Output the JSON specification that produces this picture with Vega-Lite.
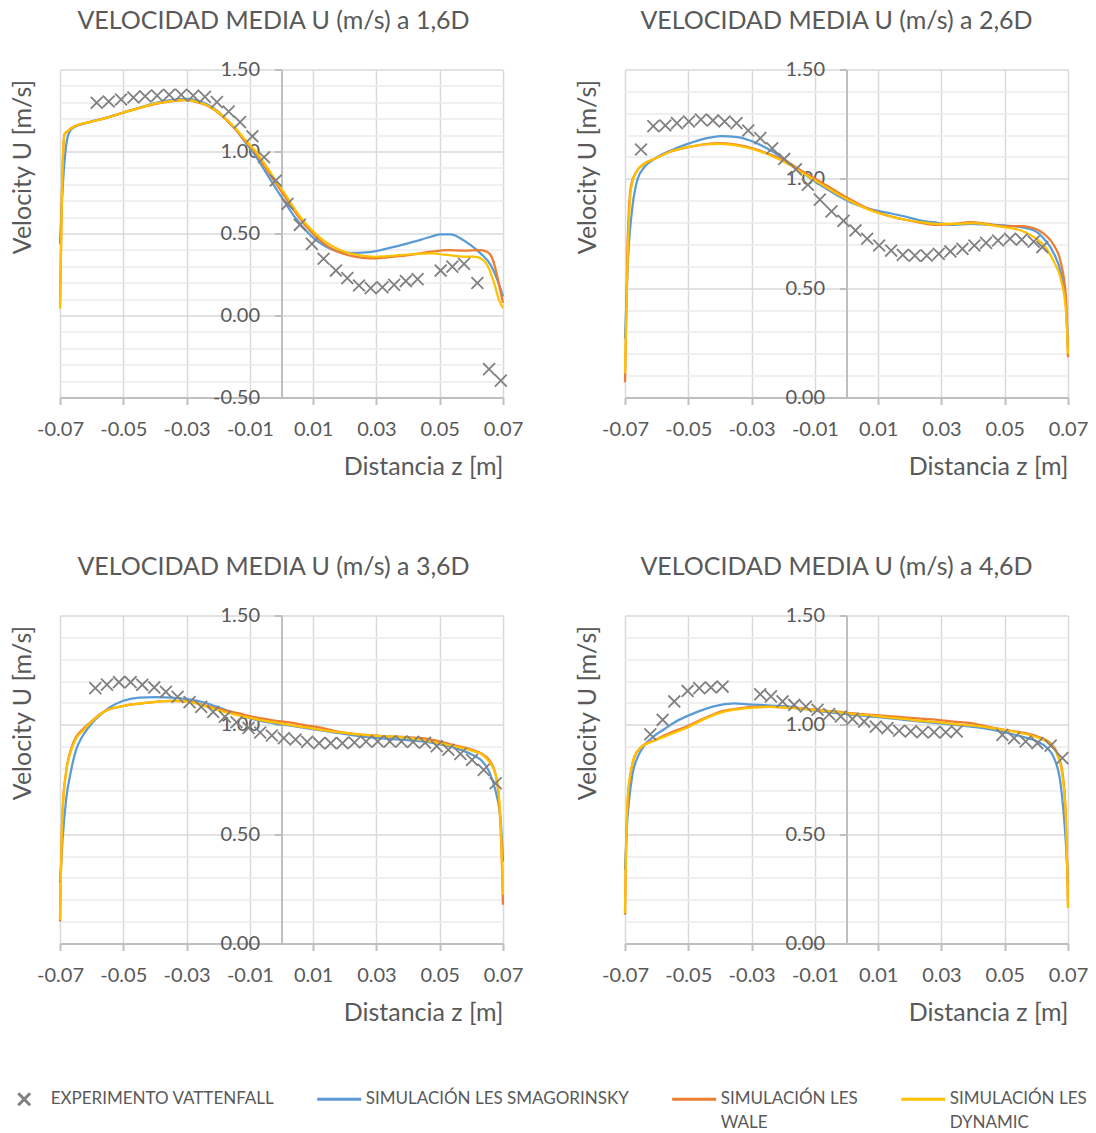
{
  "$schema": "https://vega.github.io/schema/vega-lite/v6.json",
  "padding": {"left": 0, "top": 8.5, "right": 0, "bottom": 0},
  "background": "white",
  "config": {
    "font": "Lato",
    "locale": {"number": {"decimal": ".", "thousands": ",", "grouping": [3], "currency": ["$", ""], "minus": "-"}},
    "view": {"stroke": null},
    "style": {"guide-label": {"lineHeight": 24}},
    "title": {"fontSize": 25, "fontWeight": "normal", "color": "#595959", "font": "Lato", "anchor": "middle", "offset": 25.5},
    "axis": {"labelFont": "Lato", "labelFontSize": 20, "labelColor": "#595959", "titleFont": "Lato", "titleFontSize": 25, "titleColor": "#595959", "titleFontWeight": "normal", "domainColor": "#bfbfbf", "tickColor": "#bfbfbf", "gridColor": "#d9d9d9"},
    "legend": {"title": null, "labelFont": "Lato", "labelFontSize": 17, "labelColor": "#595959", "labelLimit": 400, "labelOffset": 3, "symbolSize": 1936, "symbolStrokeWidth": 3, "columnPadding": 36, "padding": 0}
  },
  "datasets": {
    "d": [
      {"p":1,"s":"SMAG","z":-0.07,"u":0.437},{"p":1,"s":"SMAG","z":-0.0694,"u":0.691},{"p":1,"s":"SMAG","z":-0.0683,"u":0.996},{"p":1,"s":"SMAG","z":-0.0673,"u":1.108},{"p":1,"s":"SMAG","z":-0.066,"u":1.142},{"p":1,"s":"SMAG","z":-0.0607,"u":1.179},{"p":1,"s":"SMAG","z":-0.0555,"u":1.205},{"p":1,"s":"SMAG","z":-0.0502,"u":1.236},{"p":1,"s":"SMAG","z":-0.045,"u":1.266},{"p":1,"s":"SMAG","z":-0.0397,"u":1.297},{"p":1,"s":"SMAG","z":-0.0344,"u":1.315},{"p":1,"s":"SMAG","z":-0.0302,"u":1.321},{"p":1,"s":"SMAG","z":-0.0271,"u":1.313},{"p":1,"s":"SMAG","z":-0.0239,"u":1.291},{"p":1,"s":"SMAG","z":-0.0207,"u":1.254},{"p":1,"s":"SMAG","z":-0.0176,"u":1.199},{"p":1,"s":"SMAG","z":-0.0144,"u":1.132},{"p":1,"s":"SMAG","z":-0.0113,"u":1.053},{"p":1,"s":"SMAG","z":-0.0081,"u":0.97},{"p":1,"s":"SMAG","z":-0.005,"u":0.874},{"p":1,"s":"SMAG","z":-0.0018,"u":0.776},{"p":1,"s":"SMAG","z":0.0014,"u":0.681},{"p":1,"s":"SMAG","z":0.0045,"u":0.593},{"p":1,"s":"SMAG","z":0.0077,"u":0.518},{"p":1,"s":"SMAG","z":0.0108,"u":0.461},{"p":1,"s":"SMAG","z":0.014,"u":0.421},{"p":1,"s":"SMAG","z":0.0172,"u":0.394},{"p":1,"s":"SMAG","z":0.0203,"u":0.384},{"p":1,"s":"SMAG","z":0.0235,"u":0.382},{"p":1,"s":"SMAG","z":0.0277,"u":0.386},{"p":1,"s":"SMAG","z":0.0314,"u":0.399},{"p":1,"s":"SMAG","z":0.0366,"u":0.423},{"p":1,"s":"SMAG","z":0.0419,"u":0.45},{"p":1,"s":"SMAG","z":0.0472,"u":0.48},{"p":1,"s":"SMAG","z":0.0503,"u":0.494},{"p":1,"s":"SMAG","z":0.0535,"u":0.494},{"p":1,"s":"SMAG","z":0.0566,"u":0.47},{"p":1,"s":"SMAG","z":0.0598,"u":0.429},{"p":1,"s":"SMAG","z":0.0629,"u":0.379},{"p":1,"s":"SMAG","z":0.0661,"u":0.308},{"p":1,"s":"SMAG","z":0.0682,"u":0.218},{"p":1,"s":"SMAG","z":0.07,"u":0.117},
      {"p":1,"s":"WALE","z":-0.07,"u":0.061},{"p":1,"s":"WALE","z":-0.0694,"u":0.732},{"p":1,"s":"WALE","z":-0.0686,"u":1.106},{"p":1,"s":"WALE","z":-0.0676,"u":1.124},{"p":1,"s":"WALE","z":-0.066,"u":1.148},{"p":1,"s":"WALE","z":-0.0607,"u":1.179},{"p":1,"s":"WALE","z":-0.0555,"u":1.205},{"p":1,"s":"WALE","z":-0.0502,"u":1.236},{"p":1,"s":"WALE","z":-0.045,"u":1.264},{"p":1,"s":"WALE","z":-0.0397,"u":1.291},{"p":1,"s":"WALE","z":-0.0344,"u":1.307},{"p":1,"s":"WALE","z":-0.0302,"u":1.313},{"p":1,"s":"WALE","z":-0.0271,"u":1.303},{"p":1,"s":"WALE","z":-0.0239,"u":1.283},{"p":1,"s":"WALE","z":-0.0207,"u":1.246},{"p":1,"s":"WALE","z":-0.0176,"u":1.195},{"p":1,"s":"WALE","z":-0.0144,"u":1.132},{"p":1,"s":"WALE","z":-0.0113,"u":1.059},{"p":1,"s":"WALE","z":-0.0081,"u":0.988},{"p":1,"s":"WALE","z":-0.005,"u":0.898},{"p":1,"s":"WALE","z":-0.0018,"u":0.807},{"p":1,"s":"WALE","z":0.0014,"u":0.715},{"p":1,"s":"WALE","z":0.0045,"u":0.626},{"p":1,"s":"WALE","z":0.0077,"u":0.545},{"p":1,"s":"WALE","z":0.0108,"u":0.482},{"p":1,"s":"WALE","z":0.014,"u":0.431},{"p":1,"s":"WALE","z":0.0172,"u":0.394},{"p":1,"s":"WALE","z":0.0203,"u":0.372},{"p":1,"s":"WALE","z":0.0235,"u":0.358},{"p":1,"s":"WALE","z":0.0266,"u":0.35},{"p":1,"s":"WALE","z":0.0298,"u":0.348},{"p":1,"s":"WALE","z":0.0335,"u":0.355},{"p":1,"s":"WALE","z":0.0419,"u":0.373},{"p":1,"s":"WALE","z":0.0472,"u":0.389},{"p":1,"s":"WALE","z":0.0524,"u":0.399},{"p":1,"s":"WALE","z":0.0577,"u":0.395},{"p":1,"s":"WALE","z":0.0629,"u":0.399},{"p":1,"s":"WALE","z":0.065,"u":0.389},{"p":1,"s":"WALE","z":0.0666,"u":0.349},{"p":1,"s":"WALE","z":0.0682,"u":0.238},{"p":1,"s":"WALE","z":0.0693,"u":0.137},{"p":1,"s":"WALE","z":0.07,"u":0.077},
      {"p":1,"s":"DYN","z":-0.07,"u":0.041},{"p":1,"s":"DYN","z":-0.0694,"u":0.732},{"p":1,"s":"DYN","z":-0.0686,"u":1.102},{"p":1,"s":"DYN","z":-0.0676,"u":1.122},{"p":1,"s":"DYN","z":-0.066,"u":1.148},{"p":1,"s":"DYN","z":-0.0607,"u":1.179},{"p":1,"s":"DYN","z":-0.0555,"u":1.203},{"p":1,"s":"DYN","z":-0.0502,"u":1.236},{"p":1,"s":"DYN","z":-0.045,"u":1.264},{"p":1,"s":"DYN","z":-0.0397,"u":1.293},{"p":1,"s":"DYN","z":-0.0344,"u":1.309},{"p":1,"s":"DYN","z":-0.0302,"u":1.315},{"p":1,"s":"DYN","z":-0.0271,"u":1.305},{"p":1,"s":"DYN","z":-0.0239,"u":1.285},{"p":1,"s":"DYN","z":-0.0207,"u":1.25},{"p":1,"s":"DYN","z":-0.0176,"u":1.199},{"p":1,"s":"DYN","z":-0.0144,"u":1.138},{"p":1,"s":"DYN","z":-0.0113,"u":1.067},{"p":1,"s":"DYN","z":-0.0081,"u":1.0},{"p":1,"s":"DYN","z":-0.005,"u":0.915},{"p":1,"s":"DYN","z":-0.0018,"u":0.823},{"p":1,"s":"DYN","z":0.0014,"u":0.732},{"p":1,"s":"DYN","z":0.0045,"u":0.64},{"p":1,"s":"DYN","z":0.0077,"u":0.559},{"p":1,"s":"DYN","z":0.0108,"u":0.498},{"p":1,"s":"DYN","z":0.014,"u":0.447},{"p":1,"s":"DYN","z":0.0172,"u":0.411},{"p":1,"s":"DYN","z":0.0203,"u":0.386},{"p":1,"s":"DYN","z":0.0235,"u":0.372},{"p":1,"s":"DYN","z":0.0266,"u":0.362},{"p":1,"s":"DYN","z":0.0298,"u":0.358},{"p":1,"s":"DYN","z":0.0335,"u":0.362},{"p":1,"s":"DYN","z":0.0419,"u":0.375},{"p":1,"s":"DYN","z":0.0472,"u":0.379},{"p":1,"s":"DYN","z":0.0524,"u":0.369},{"p":1,"s":"DYN","z":0.0577,"u":0.359},{"p":1,"s":"DYN","z":0.0608,"u":0.359},{"p":1,"s":"DYN","z":0.0629,"u":0.349},{"p":1,"s":"DYN","z":0.065,"u":0.308},{"p":1,"s":"DYN","z":0.0672,"u":0.198},{"p":1,"s":"DYN","z":0.0687,"u":0.097},{"p":1,"s":"DYN","z":0.07,"u":0.046},
      {"p":1,"s":"EXP","z":-0.0584,"u":1.297},{"p":1,"s":"EXP","z":-0.0546,"u":1.305},{"p":1,"s":"EXP","z":-0.0507,"u":1.317},{"p":1,"s":"EXP","z":-0.0468,"u":1.329},{"p":1,"s":"EXP","z":-0.0431,"u":1.337},{"p":1,"s":"EXP","z":-0.0393,"u":1.341},{"p":1,"s":"EXP","z":-0.0355,"u":1.346},{"p":1,"s":"EXP","z":-0.0317,"u":1.346},{"p":1,"s":"EXP","z":-0.0279,"u":1.341},{"p":1,"s":"EXP","z":-0.0242,"u":1.333},{"p":1,"s":"EXP","z":-0.0204,"u":1.301},{"p":1,"s":"EXP","z":-0.0167,"u":1.244},{"p":1,"s":"EXP","z":-0.0131,"u":1.179},{"p":1,"s":"EXP","z":-0.0092,"u":1.093},{"p":1,"s":"EXP","z":-0.0055,"u":0.965},{"p":1,"s":"EXP","z":-0.0018,"u":0.823},{"p":1,"s":"EXP","z":0.0019,"u":0.681},{"p":1,"s":"EXP","z":0.0058,"u":0.553},{"p":1,"s":"EXP","z":0.0096,"u":0.437},{"p":1,"s":"EXP","z":0.0133,"u":0.346},{"p":1,"s":"EXP","z":0.0172,"u":0.274},{"p":1,"s":"EXP","z":0.0208,"u":0.228},{"p":1,"s":"EXP","z":0.0245,"u":0.183},{"p":1,"s":"EXP","z":0.0282,"u":0.167},{"p":1,"s":"EXP","z":0.0319,"u":0.172},{"p":1,"s":"EXP","z":0.0356,"u":0.187},{"p":1,"s":"EXP","z":0.0393,"u":0.21},{"p":1,"s":"EXP","z":0.043,"u":0.222},{"p":1,"s":"EXP","z":0.0503,"u":0.274},{"p":1,"s":"EXP","z":0.054,"u":0.298},{"p":1,"s":"EXP","z":0.0577,"u":0.315},{"p":1,"s":"EXP","z":0.0619,"u":0.198},{"p":1,"s":"EXP","z":0.0656,"u":-0.327},{"p":1,"s":"EXP","z":0.0693,"u":-0.397},

      {"p":2,"s":"SMAG","z":-0.07,"u":0.268},{"p":2,"s":"SMAG","z":-0.0692,"u":0.588},{"p":2,"s":"SMAG","z":-0.0676,"u":0.878},{"p":2,"s":"SMAG","z":-0.066,"u":1.0},{"p":2,"s":"SMAG","z":-0.0639,"u":1.053},{"p":2,"s":"SMAG","z":-0.0607,"u":1.091},{"p":2,"s":"SMAG","z":-0.0555,"u":1.13},{"p":2,"s":"SMAG","z":-0.0502,"u":1.16},{"p":2,"s":"SMAG","z":-0.045,"u":1.183},{"p":2,"s":"SMAG","z":-0.0397,"u":1.195},{"p":2,"s":"SMAG","z":-0.0344,"u":1.191},{"p":2,"s":"SMAG","z":-0.0292,"u":1.168},{"p":2,"s":"SMAG","z":-0.0239,"u":1.13},{"p":2,"s":"SMAG","z":-0.0186,"u":1.079},{"p":2,"s":"SMAG","z":-0.0134,"u":1.023},{"p":2,"s":"SMAG","z":-0.0081,"u":0.97},{"p":2,"s":"SMAG","z":-0.0028,"u":0.924},{"p":2,"s":"SMAG","z":0.0024,"u":0.886},{"p":2,"s":"SMAG","z":0.0077,"u":0.86},{"p":2,"s":"SMAG","z":0.013,"u":0.845},{"p":2,"s":"SMAG","z":0.0182,"u":0.829},{"p":2,"s":"SMAG","z":0.0235,"u":0.809},{"p":2,"s":"SMAG","z":0.0287,"u":0.799},{"p":2,"s":"SMAG","z":0.034,"u":0.79},{"p":2,"s":"SMAG","z":0.0393,"u":0.794},{"p":2,"s":"SMAG","z":0.0445,"u":0.79},{"p":2,"s":"SMAG","z":0.0498,"u":0.787},{"p":2,"s":"SMAG","z":0.0551,"u":0.779},{"p":2,"s":"SMAG","z":0.0593,"u":0.764},{"p":2,"s":"SMAG","z":0.0624,"u":0.726},{"p":2,"s":"SMAG","z":0.0656,"u":0.657},{"p":2,"s":"SMAG","z":0.0677,"u":0.573},{"p":2,"s":"SMAG","z":0.0693,"u":0.436},{"p":2,"s":"SMAG","z":0.07,"u":0.223},
      {"p":2,"s":"WALE","z":-0.07,"u":0.07},{"p":2,"s":"WALE","z":-0.0692,"u":0.695},{"p":2,"s":"WALE","z":-0.0681,"u":0.97},{"p":2,"s":"WALE","z":-0.0665,"u":1.03},{"p":2,"s":"WALE","z":-0.0639,"u":1.069},{"p":2,"s":"WALE","z":-0.0607,"u":1.091},{"p":2,"s":"WALE","z":-0.0555,"u":1.125},{"p":2,"s":"WALE","z":-0.0502,"u":1.145},{"p":2,"s":"WALE","z":-0.045,"u":1.158},{"p":2,"s":"WALE","z":-0.0397,"u":1.163},{"p":2,"s":"WALE","z":-0.0344,"u":1.155},{"p":2,"s":"WALE","z":-0.0292,"u":1.137},{"p":2,"s":"WALE","z":-0.0239,"u":1.111},{"p":2,"s":"WALE","z":-0.0186,"u":1.076},{"p":2,"s":"WALE","z":-0.0134,"u":1.03},{"p":2,"s":"WALE","z":-0.0081,"u":0.985},{"p":2,"s":"WALE","z":-0.0028,"u":0.939},{"p":2,"s":"WALE","z":0.0024,"u":0.896},{"p":2,"s":"WALE","z":0.0077,"u":0.858},{"p":2,"s":"WALE","z":0.013,"u":0.832},{"p":2,"s":"WALE","z":0.0182,"u":0.814},{"p":2,"s":"WALE","z":0.0235,"u":0.799},{"p":2,"s":"WALE","z":0.0287,"u":0.79},{"p":2,"s":"WALE","z":0.034,"u":0.794},{"p":2,"s":"WALE","z":0.0393,"u":0.802},{"p":2,"s":"WALE","z":0.0445,"u":0.794},{"p":2,"s":"WALE","z":0.0498,"u":0.784},{"p":2,"s":"WALE","z":0.0551,"u":0.784},{"p":2,"s":"WALE","z":0.0593,"u":0.774},{"p":2,"s":"WALE","z":0.0624,"u":0.748},{"p":2,"s":"WALE","z":0.0656,"u":0.695},{"p":2,"s":"WALE","z":0.0677,"u":0.619},{"p":2,"s":"WALE","z":0.0693,"u":0.466},{"p":2,"s":"WALE","z":0.07,"u":0.184},
      {"p":2,"s":"DYN","z":-0.07,"u":0.11},{"p":2,"s":"DYN","z":-0.0692,"u":0.619},{"p":2,"s":"DYN","z":-0.0681,"u":0.954},{"p":2,"s":"DYN","z":-0.0665,"u":1.03},{"p":2,"s":"DYN","z":-0.0639,"u":1.069},{"p":2,"s":"DYN","z":-0.0607,"u":1.091},{"p":2,"s":"DYN","z":-0.0555,"u":1.125},{"p":2,"s":"DYN","z":-0.0502,"u":1.145},{"p":2,"s":"DYN","z":-0.045,"u":1.157},{"p":2,"s":"DYN","z":-0.0397,"u":1.16},{"p":2,"s":"DYN","z":-0.0344,"u":1.152},{"p":2,"s":"DYN","z":-0.0292,"u":1.134},{"p":2,"s":"DYN","z":-0.0239,"u":1.107},{"p":2,"s":"DYN","z":-0.0186,"u":1.069},{"p":2,"s":"DYN","z":-0.0134,"u":1.023},{"p":2,"s":"DYN","z":-0.0081,"u":0.977},{"p":2,"s":"DYN","z":-0.0028,"u":0.931},{"p":2,"s":"DYN","z":0.0024,"u":0.89},{"p":2,"s":"DYN","z":0.0077,"u":0.855},{"p":2,"s":"DYN","z":0.013,"u":0.832},{"p":2,"s":"DYN","z":0.0182,"u":0.814},{"p":2,"s":"DYN","z":0.0235,"u":0.802},{"p":2,"s":"DYN","z":0.0287,"u":0.794},{"p":2,"s":"DYN","z":0.034,"u":0.794},{"p":2,"s":"DYN","z":0.0393,"u":0.797},{"p":2,"s":"DYN","z":0.0445,"u":0.791},{"p":2,"s":"DYN","z":0.0498,"u":0.779},{"p":2,"s":"DYN","z":0.0551,"u":0.764},{"p":2,"s":"DYN","z":0.0593,"u":0.733},{"p":2,"s":"DYN","z":0.0624,"u":0.695},{"p":2,"s":"DYN","z":0.0656,"u":0.619},{"p":2,"s":"DYN","z":0.0677,"u":0.543},{"p":2,"s":"DYN","z":0.0693,"u":0.405},{"p":2,"s":"DYN","z":0.07,"u":0.2},
      {"p":2,"s":"EXP","z":-0.06495,"u":1.134},{"p":2,"s":"EXP","z":-0.06105,"u":1.241},{"p":2,"s":"EXP","z":-0.05726,"u":1.244},{"p":2,"s":"EXP","z":-0.05358,"u":1.255},{"p":2,"s":"EXP","z":-0.04979,"u":1.262},{"p":2,"s":"EXP","z":-0.046,"u":1.271},{"p":2,"s":"EXP","z":-0.04221,"u":1.267},{"p":2,"s":"EXP","z":-0.03853,"u":1.262},{"p":2,"s":"EXP","z":-0.03474,"u":1.255},{"p":2,"s":"EXP","z":-0.03105,"u":1.221},{"p":2,"s":"EXP","z":-0.02726,"u":1.186},{"p":2,"s":"EXP","z":-0.02347,"u":1.14},{"p":2,"s":"EXP","z":-0.01968,"u":1.091},{"p":2,"s":"EXP","z":-0.016,"u":1.043},{"p":2,"s":"EXP","z":-0.01221,"u":0.973},{"p":2,"s":"EXP","z":-0.00842,"u":0.905},{"p":2,"s":"EXP","z":-0.00474,"u":0.851},{"p":2,"s":"EXP","z":-0.00095,"u":0.808},{"p":2,"s":"EXP","z":0.00284,"u":0.764},{"p":2,"s":"EXP","z":0.00653,"u":0.726},{"p":2,"s":"EXP","z":0.01032,"u":0.695},{"p":2,"s":"EXP","z":0.01411,"u":0.672},{"p":2,"s":"EXP","z":0.01779,"u":0.652},{"p":2,"s":"EXP","z":0.02158,"u":0.649},{"p":2,"s":"EXP","z":0.02537,"u":0.649},{"p":2,"s":"EXP","z":0.02916,"u":0.657},{"p":2,"s":"EXP","z":0.03284,"u":0.668},{"p":2,"s":"EXP","z":0.03663,"u":0.68},{"p":2,"s":"EXP","z":0.04042,"u":0.695},{"p":2,"s":"EXP","z":0.04411,"u":0.707},{"p":2,"s":"EXP","z":0.04789,"u":0.718},{"p":2,"s":"EXP","z":0.05168,"u":0.726},{"p":2,"s":"EXP","z":0.05537,"u":0.722},{"p":2,"s":"EXP","z":0.05916,"u":0.713},{"p":2,"s":"EXP","z":0.06189,"u":0.688},

      {"p":3,"s":"SMAG","z":-0.07,"u":0.276},{"p":3,"s":"SMAG","z":-0.0692,"u":0.473},{"p":3,"s":"SMAG","z":-0.0681,"u":0.655},{"p":3,"s":"SMAG","z":-0.0665,"u":0.791},{"p":3,"s":"SMAG","z":-0.065,"u":0.882},{"p":3,"s":"SMAG","z":-0.0628,"u":0.95},{"p":3,"s":"SMAG","z":-0.0602,"u":1.003},{"p":3,"s":"SMAG","z":-0.0576,"u":1.041},{"p":3,"s":"SMAG","z":-0.0544,"u":1.079},{"p":3,"s":"SMAG","z":-0.0502,"u":1.109},{"p":3,"s":"SMAG","z":-0.045,"u":1.124},{"p":3,"s":"SMAG","z":-0.0397,"u":1.127},{"p":3,"s":"SMAG","z":-0.0344,"u":1.124},{"p":3,"s":"SMAG","z":-0.0292,"u":1.117},{"p":3,"s":"SMAG","z":-0.0239,"u":1.1},{"p":3,"s":"SMAG","z":-0.0186,"u":1.073},{"p":3,"s":"SMAG","z":-0.0134,"u":1.046},{"p":3,"s":"SMAG","z":-0.0081,"u":1.023},{"p":3,"s":"SMAG","z":-0.0028,"u":1.008},{"p":3,"s":"SMAG","z":0.0024,"u":0.997},{"p":3,"s":"SMAG","z":0.0077,"u":0.985},{"p":3,"s":"SMAG","z":0.013,"u":0.973},{"p":3,"s":"SMAG","z":0.0182,"u":0.962},{"p":3,"s":"SMAG","z":0.0235,"u":0.951},{"p":3,"s":"SMAG","z":0.0287,"u":0.942},{"p":3,"s":"SMAG","z":0.034,"u":0.936},{"p":3,"s":"SMAG","z":0.0393,"u":0.931},{"p":3,"s":"SMAG","z":0.0445,"u":0.924},{"p":3,"s":"SMAG","z":0.0498,"u":0.912},{"p":3,"s":"SMAG","z":0.0551,"u":0.893},{"p":3,"s":"SMAG","z":0.0603,"u":0.863},{"p":3,"s":"SMAG","z":0.0635,"u":0.832},{"p":3,"s":"SMAG","z":0.0656,"u":0.787},{"p":3,"s":"SMAG","z":0.0677,"u":0.695},{"p":3,"s":"SMAG","z":0.0693,"u":0.558},{"p":3,"s":"SMAG","z":0.07,"u":0.375},
      {"p":3,"s":"WALE","z":-0.07,"u":0.1},{"p":3,"s":"WALE","z":-0.0697,"u":0.336},{"p":3,"s":"WALE","z":-0.0692,"u":0.609},{"p":3,"s":"WALE","z":-0.0681,"u":0.783},{"p":3,"s":"WALE","z":-0.0665,"u":0.889},{"p":3,"s":"WALE","z":-0.065,"u":0.943},{"p":3,"s":"WALE","z":-0.0628,"u":0.98},{"p":3,"s":"WALE","z":-0.0602,"u":1.014},{"p":3,"s":"WALE","z":-0.0576,"u":1.047},{"p":3,"s":"WALE","z":-0.0544,"u":1.071},{"p":3,"s":"WALE","z":-0.0502,"u":1.086},{"p":3,"s":"WALE","z":-0.045,"u":1.097},{"p":3,"s":"WALE","z":-0.0397,"u":1.105},{"p":3,"s":"WALE","z":-0.0344,"u":1.109},{"p":3,"s":"WALE","z":-0.0292,"u":1.107},{"p":3,"s":"WALE","z":-0.0239,"u":1.088},{"p":3,"s":"WALE","z":-0.0186,"u":1.069},{"p":3,"s":"WALE","z":-0.0134,"u":1.052},{"p":3,"s":"WALE","z":-0.0081,"u":1.034},{"p":3,"s":"WALE","z":-0.0028,"u":1.021},{"p":3,"s":"WALE","z":0.0024,"u":1.011},{"p":3,"s":"WALE","z":0.0077,"u":0.998},{"p":3,"s":"WALE","z":0.013,"u":0.985},{"p":3,"s":"WALE","z":0.0182,"u":0.968},{"p":3,"s":"WALE","z":0.0235,"u":0.958},{"p":3,"s":"WALE","z":0.0287,"u":0.952},{"p":3,"s":"WALE","z":0.034,"u":0.947},{"p":3,"s":"WALE","z":0.0393,"u":0.944},{"p":3,"s":"WALE","z":0.0445,"u":0.939},{"p":3,"s":"WALE","z":0.0498,"u":0.925},{"p":3,"s":"WALE","z":0.0551,"u":0.905},{"p":3,"s":"WALE","z":0.0603,"u":0.886},{"p":3,"s":"WALE","z":0.0635,"u":0.866},{"p":3,"s":"WALE","z":0.0656,"u":0.84},{"p":3,"s":"WALE","z":0.0677,"u":0.771},{"p":3,"s":"WALE","z":0.0687,"u":0.66},{"p":3,"s":"WALE","z":0.0695,"u":0.44},{"p":3,"s":"WALE","z":0.07,"u":0.177},
      {"p":3,"s":"DYN","z":-0.07,"u":0.109},{"p":3,"s":"DYN","z":-0.0697,"u":0.321},{"p":3,"s":"DYN","z":-0.0692,"u":0.594},{"p":3,"s":"DYN","z":-0.0681,"u":0.776},{"p":3,"s":"DYN","z":-0.0665,"u":0.882},{"p":3,"s":"DYN","z":-0.065,"u":0.935},{"p":3,"s":"DYN","z":-0.0628,"u":0.973},{"p":3,"s":"DYN","z":-0.0602,"u":1.011},{"p":3,"s":"DYN","z":-0.0576,"u":1.045},{"p":3,"s":"DYN","z":-0.0544,"u":1.071},{"p":3,"s":"DYN","z":-0.0502,"u":1.086},{"p":3,"s":"DYN","z":-0.045,"u":1.097},{"p":3,"s":"DYN","z":-0.0397,"u":1.105},{"p":3,"s":"DYN","z":-0.0344,"u":1.109},{"p":3,"s":"DYN","z":-0.0292,"u":1.105},{"p":3,"s":"DYN","z":-0.0239,"u":1.084},{"p":3,"s":"DYN","z":-0.0186,"u":1.061},{"p":3,"s":"DYN","z":-0.0134,"u":1.043},{"p":3,"s":"DYN","z":-0.0081,"u":1.026},{"p":3,"s":"DYN","z":-0.0028,"u":1.012},{"p":3,"s":"DYN","z":0.0024,"u":1.0},{"p":3,"s":"DYN","z":0.0077,"u":0.988},{"p":3,"s":"DYN","z":0.013,"u":0.976},{"p":3,"s":"DYN","z":0.0182,"u":0.966},{"p":3,"s":"DYN","z":0.0235,"u":0.957},{"p":3,"s":"DYN","z":0.0287,"u":0.951},{"p":3,"s":"DYN","z":0.034,"u":0.947},{"p":3,"s":"DYN","z":0.0393,"u":0.942},{"p":3,"s":"DYN","z":0.0445,"u":0.931},{"p":3,"s":"DYN","z":0.0498,"u":0.916},{"p":3,"s":"DYN","z":0.0551,"u":0.901},{"p":3,"s":"DYN","z":0.0603,"u":0.881},{"p":3,"s":"DYN","z":0.0635,"u":0.863},{"p":3,"s":"DYN","z":0.0656,"u":0.832},{"p":3,"s":"DYN","z":0.0677,"u":0.771},{"p":3,"s":"DYN","z":0.0687,"u":0.68},{"p":3,"s":"DYN","z":0.0695,"u":0.466},{"p":3,"s":"DYN","z":0.07,"u":0.223},
      {"p":3,"s":"EXP","z":-0.05884,"u":1.168},{"p":3,"s":"EXP","z":-0.05516,"u":1.184},{"p":3,"s":"EXP","z":-0.05137,"u":1.195},{"p":3,"s":"EXP","z":-0.04768,"u":1.195},{"p":3,"s":"EXP","z":-0.044,"u":1.183},{"p":3,"s":"EXP","z":-0.04021,"u":1.171},{"p":3,"s":"EXP","z":-0.03653,"u":1.151},{"p":3,"s":"EXP","z":-0.03284,"u":1.128},{"p":3,"s":"EXP","z":-0.02905,"u":1.104},{"p":3,"s":"EXP","z":-0.02537,"u":1.082},{"p":3,"s":"EXP","z":-0.02158,"u":1.059},{"p":3,"s":"EXP","z":-0.01789,"u":1.037},{"p":3,"s":"EXP","z":-0.01421,"u":1.012},{"p":3,"s":"EXP","z":-0.01042,"u":0.986},{"p":3,"s":"EXP","z":-0.00674,"u":0.965},{"p":3,"s":"EXP","z":-0.00305,"u":0.951},{"p":3,"s":"EXP","z":0.00074,"u":0.939},{"p":3,"s":"EXP","z":0.00442,"u":0.933},{"p":3,"s":"EXP","z":0.00811,"u":0.922},{"p":3,"s":"EXP","z":0.01189,"u":0.916},{"p":3,"s":"EXP","z":0.01558,"u":0.916},{"p":3,"s":"EXP","z":0.01926,"u":0.916},{"p":3,"s":"EXP","z":0.02305,"u":0.919},{"p":3,"s":"EXP","z":0.02674,"u":0.924},{"p":3,"s":"EXP","z":0.03042,"u":0.924},{"p":3,"s":"EXP","z":0.03421,"u":0.924},{"p":3,"s":"EXP","z":0.03789,"u":0.924},{"p":3,"s":"EXP","z":0.04158,"u":0.922},{"p":3,"s":"EXP","z":0.04537,"u":0.918},{"p":3,"s":"EXP","z":0.04905,"u":0.902},{"p":3,"s":"EXP","z":0.05274,"u":0.886},{"p":3,"s":"EXP","z":0.05653,"u":0.867},{"p":3,"s":"EXP","z":0.06021,"u":0.84},{"p":3,"s":"EXP","z":0.06389,"u":0.794},{"p":3,"s":"EXP","z":0.06768,"u":0.733},

      {"p":4,"s":"SMAG","z":-0.07,"u":0.336},{"p":4,"s":"SMAG","z":-0.0694,"u":0.533},{"p":4,"s":"SMAG","z":-0.0686,"u":0.67},{"p":4,"s":"SMAG","z":-0.0676,"u":0.776},{"p":4,"s":"SMAG","z":-0.066,"u":0.852},{"p":4,"s":"SMAG","z":-0.0639,"u":0.905},{"p":4,"s":"SMAG","z":-0.0607,"u":0.95},{"p":4,"s":"SMAG","z":-0.0576,"u":0.98},{"p":4,"s":"SMAG","z":-0.0544,"u":1.011},{"p":4,"s":"SMAG","z":-0.0502,"u":1.041},{"p":4,"s":"SMAG","z":-0.045,"u":1.071},{"p":4,"s":"SMAG","z":-0.0397,"u":1.091},{"p":4,"s":"SMAG","z":-0.0355,"u":1.098},{"p":4,"s":"SMAG","z":-0.0313,"u":1.094},{"p":4,"s":"SMAG","z":-0.0239,"u":1.088},{"p":4,"s":"SMAG","z":-0.0186,"u":1.084},{"p":4,"s":"SMAG","z":-0.0134,"u":1.073},{"p":4,"s":"SMAG","z":-0.0081,"u":1.061},{"p":4,"s":"SMAG","z":-0.0028,"u":1.053},{"p":4,"s":"SMAG","z":0.0024,"u":1.046},{"p":4,"s":"SMAG","z":0.0077,"u":1.038},{"p":4,"s":"SMAG","z":0.013,"u":1.031},{"p":4,"s":"SMAG","z":0.0182,"u":1.023},{"p":4,"s":"SMAG","z":0.0235,"u":1.015},{"p":4,"s":"SMAG","z":0.0287,"u":1.008},{"p":4,"s":"SMAG","z":0.034,"u":1.0},{"p":4,"s":"SMAG","z":0.0393,"u":0.992},{"p":4,"s":"SMAG","z":0.0445,"u":0.982},{"p":4,"s":"SMAG","z":0.0498,"u":0.966},{"p":4,"s":"SMAG","z":0.0551,"u":0.947},{"p":4,"s":"SMAG","z":0.0603,"u":0.924},{"p":4,"s":"SMAG","z":0.0635,"u":0.893},{"p":4,"s":"SMAG","z":0.0656,"u":0.848},{"p":4,"s":"SMAG","z":0.0677,"u":0.726},{"p":4,"s":"SMAG","z":0.0693,"u":0.466},{"p":4,"s":"SMAG","z":0.07,"u":0.284},
      {"p":4,"s":"WALE","z":-0.07,"u":0.132},{"p":4,"s":"WALE","z":-0.0697,"u":0.41},{"p":4,"s":"WALE","z":-0.0692,"u":0.64},{"p":4,"s":"WALE","z":-0.0683,"u":0.77},{"p":4,"s":"WALE","z":-0.0671,"u":0.849},{"p":4,"s":"WALE","z":-0.065,"u":0.897},{"p":4,"s":"WALE","z":-0.0607,"u":0.93},{"p":4,"s":"WALE","z":-0.0555,"u":0.965},{"p":4,"s":"WALE","z":-0.0502,"u":0.995},{"p":4,"s":"WALE","z":-0.045,"u":1.03},{"p":4,"s":"WALE","z":-0.0397,"u":1.061},{"p":4,"s":"WALE","z":-0.0344,"u":1.074},{"p":4,"s":"WALE","z":-0.0292,"u":1.082},{"p":4,"s":"WALE","z":-0.0239,"u":1.082},{"p":4,"s":"WALE","z":-0.0186,"u":1.079},{"p":4,"s":"WALE","z":-0.0134,"u":1.074},{"p":4,"s":"WALE","z":-0.0081,"u":1.067},{"p":4,"s":"WALE","z":-0.0028,"u":1.06},{"p":4,"s":"WALE","z":0.0024,"u":1.052},{"p":4,"s":"WALE","z":0.0077,"u":1.046},{"p":4,"s":"WALE","z":0.013,"u":1.04},{"p":4,"s":"WALE","z":0.0182,"u":1.034},{"p":4,"s":"WALE","z":0.0235,"u":1.028},{"p":4,"s":"WALE","z":0.0287,"u":1.023},{"p":4,"s":"WALE","z":0.034,"u":1.015},{"p":4,"s":"WALE","z":0.0393,"u":1.008},{"p":4,"s":"WALE","z":0.0445,"u":0.992},{"p":4,"s":"WALE","z":0.0498,"u":0.977},{"p":4,"s":"WALE","z":0.0551,"u":0.966},{"p":4,"s":"WALE","z":0.0603,"u":0.947},{"p":4,"s":"WALE","z":0.0645,"u":0.916},{"p":4,"s":"WALE","z":0.0666,"u":0.87},{"p":4,"s":"WALE","z":0.0682,"u":0.787},{"p":4,"s":"WALE","z":0.0693,"u":0.588},{"p":4,"s":"WALE","z":0.07,"u":0.169},
      {"p":4,"s":"DYN","z":-0.07,"u":0.139},{"p":4,"s":"DYN","z":-0.0697,"u":0.397},{"p":4,"s":"DYN","z":-0.0692,"u":0.655},{"p":4,"s":"DYN","z":-0.0683,"u":0.776},{"p":4,"s":"DYN","z":-0.0671,"u":0.852},{"p":4,"s":"DYN","z":-0.065,"u":0.897},{"p":4,"s":"DYN","z":-0.0607,"u":0.927},{"p":4,"s":"DYN","z":-0.0555,"u":0.958},{"p":4,"s":"DYN","z":-0.0502,"u":0.988},{"p":4,"s":"DYN","z":-0.045,"u":1.026},{"p":4,"s":"DYN","z":-0.0397,"u":1.056},{"p":4,"s":"DYN","z":-0.0344,"u":1.071},{"p":4,"s":"DYN","z":-0.0292,"u":1.079},{"p":4,"s":"DYN","z":-0.0239,"u":1.082},{"p":4,"s":"DYN","z":-0.0186,"u":1.079},{"p":4,"s":"DYN","z":-0.0134,"u":1.073},{"p":4,"s":"DYN","z":-0.0081,"u":1.064},{"p":4,"s":"DYN","z":-0.0028,"u":1.058},{"p":4,"s":"DYN","z":0.0024,"u":1.049},{"p":4,"s":"DYN","z":0.0077,"u":1.043},{"p":4,"s":"DYN","z":0.013,"u":1.034},{"p":4,"s":"DYN","z":0.0182,"u":1.027},{"p":4,"s":"DYN","z":0.0235,"u":1.018},{"p":4,"s":"DYN","z":0.0287,"u":1.012},{"p":4,"s":"DYN","z":0.034,"u":1.003},{"p":4,"s":"DYN","z":0.0393,"u":0.997},{"p":4,"s":"DYN","z":0.0445,"u":0.988},{"p":4,"s":"DYN","z":0.0498,"u":0.977},{"p":4,"s":"DYN","z":0.0551,"u":0.962},{"p":4,"s":"DYN","z":0.0603,"u":0.942},{"p":4,"s":"DYN","z":0.0645,"u":0.909},{"p":4,"s":"DYN","z":0.0666,"u":0.863},{"p":4,"s":"DYN","z":0.0682,"u":0.771},{"p":4,"s":"DYN","z":0.0693,"u":0.588},{"p":4,"s":"DYN","z":0.07,"u":0.162},
      {"p":4,"s":"EXP","z":-0.062,"u":0.957},{"p":4,"s":"EXP","z":-0.0581,"u":1.023},{"p":4,"s":"EXP","z":-0.05442,"u":1.107},{"p":4,"s":"EXP","z":-0.05021,"u":1.155},{"p":4,"s":"EXP","z":-0.04653,"u":1.168},{"p":4,"s":"EXP","z":-0.04284,"u":1.171},{"p":4,"s":"EXP","z":-0.03916,"u":1.175},{"p":4,"s":"EXP","z":-0.02726,"u":1.14},{"p":4,"s":"EXP","z":-0.02389,"u":1.13},{"p":4,"s":"EXP","z":-0.02021,"u":1.107},{"p":4,"s":"EXP","z":-0.01653,"u":1.091},{"p":4,"s":"EXP","z":-0.01284,"u":1.084},{"p":4,"s":"EXP","z":-0.00916,"u":1.069},{"p":4,"s":"EXP","z":-0.00547,"u":1.049},{"p":4,"s":"EXP","z":-0.00179,"u":1.038},{"p":4,"s":"EXP","z":0.00189,"u":1.027},{"p":4,"s":"EXP","z":0.00558,"u":1.015},{"p":4,"s":"EXP","z":0.00926,"u":0.992},{"p":4,"s":"EXP","z":0.01295,"u":0.985},{"p":4,"s":"EXP","z":0.01663,"u":0.973},{"p":4,"s":"EXP","z":0.02032,"u":0.97},{"p":4,"s":"EXP","z":0.024,"u":0.966},{"p":4,"s":"EXP","z":0.02768,"u":0.966},{"p":4,"s":"EXP","z":0.03137,"u":0.966},{"p":4,"s":"EXP","z":0.03484,"u":0.97},{"p":4,"s":"EXP","z":0.04926,"u":0.954},{"p":4,"s":"EXP","z":0.05295,"u":0.939},{"p":4,"s":"EXP","z":0.05663,"u":0.924},{"p":4,"s":"EXP","z":0.06032,"u":0.916},{"p":4,"s":"EXP","z":0.06453,"u":0.905},{"p":4,"s":"EXP","z":0.06821,"u":0.848}
    ]
  },
  "data": {"name": "d"},
  "resolve": {"scale": {"color": "shared", "shape": "shared"}, "legend": {"color": "shared", "shape": "shared"}},
  "columns": 2,
  "spacing": {"row": 218, "column": 122},
  "bounds": "flush",
  "concat": [
    {
      "width": 443, "height": 328,
      "title": {"text": "VELOCIDAD MEDIA U (m/s) a 1,6D", "dx": -8},
      "transform": [{"filter": "datum.p == 1"}],
      "layer": [
        {
          "transform": [{"filter": "datum.s != 'EXP'"}],
          "mark": {"type": "line", "strokeWidth": 2.25, "interpolate": "monotone"},
          "encoding": {
            "x": {"field": "z", "type": "quantitative", "scale": {"domain": [-0.07, 0.07], "nice": false, "zero": false},
              "axis": {"values": [-0.07,-0.06,-0.05,-0.04,-0.03,-0.02,-0.01,0,0.01,0.02,0.03,0.04,0.05,0.06,0.07], "grid": true, "gridColor": "#d9d9d9", "gridWidth": 1.5, "domainColor": "#bfbfbf", "domainWidth": 2, "tickSize": 7, "tickColor": "#bfbfbf", "tickWidth": 2, "labelExpr": "round(abs(datum.value)*100) % 2 == 1 ? format(datum.value, '.2f') : ''", "labelPadding": 25, "labelBaseline": "middle", "labelFlush": false, "labelOverlap": false, "labelBound": false, "title": "Distancia z [m]", "titleAnchor": "end", "titleAlign": "right", "titleX": 443, "titleY": 69, "titleBaseline": "middle"}},
            "y": {"field": "u", "type": "quantitative", "scale": {"domain": [-0.5, 1.5], "nice": false, "zero": false},
              "axis": {"values": [-0.5, 0, 0.5, 1, 1.5], "format": ".2f", "offset": -221.5, "grid": true, "gridColor": "#d9d9d9", "gridWidth": 1.5, "domain": true, "domainColor": "#bfbfbf", "domainWidth": 2, "tickSize": 7, "tickColor": "#bfbfbf", "tickWidth": 2, "labelPadding": 15, "title": "Velocity U [m/s]", "titleX": -259.5, "titleY": 97, "titleAngle": -90, "titleAlign": "center", "titleBaseline": "middle"}},
            "color": {"field": "s", "type": "nominal", "scale": {"domain": ["EXP", "SMAG", "WALE", "DYN"], "range": ["#808080", "#5B9BD5", "#ED7D31", "#FFC000"]}}
          }
        },
        {
          "transform": [{"filter": "datum.s == 'EXP'"}],
          "mark": {"type": "point", "filled": false, "strokeWidth": 1.8, "size": 1936, "opacity": 1},
          "encoding": {
            "x": {"field": "z", "type": "quantitative"},
            "y": {"field": "u", "type": "quantitative", "axis": {"orient": "left", "values": [-0.4,-0.3,-0.2,-0.1,0.1,0.2,0.3,0.4,0.6,0.7,0.8,0.9,1.1,1.2,1.3,1.4], "grid": true, "gridColor": "#ebebeb", "gridWidth": 1.5, "domain": false, "ticks": false, "labels": false, "title": null}},
            "color": {"field": "s", "type": "nominal", "scale": {"domain": ["EXP", "SMAG", "WALE", "DYN"], "range": ["#808080", "#5B9BD5", "#ED7D31", "#FFC000"]},
              "legend": {"orient": "none", "direction": "horizontal", "legendX": -59.3, "legendY": 1006, "labelExpr": "datum.value == 'EXP' ? ['EXPERIMENTO VATTENFALL', ' '] : datum.value == 'SMAG' ? ['SIMULACIÓN LES SMAGORINSKY', ' '] : datum.value == 'WALE' ? ['SIMULACIÓN LES', 'WALE'] : ['SIMULACIÓN LES', 'DYNAMIC']", "encode": {"labels": {"update": {"lineHeight": {"value": 24}}}, "symbols": {"update": {"strokeWidth": {"signal": "datum.value == 'EXP' ? 2 : 3.5"}}}}}},
            "shape": {"field": "s", "type": "nominal", "scale": {"domain": ["EXP", "SMAG", "WALE", "DYN"], "range": ["M-0.27,-0.27L0.27,0.27M-0.27,0.27L0.27,-0.27", "M-1,0L1,0", "M-1,0L1,0", "M-1,0L1,0"]},
              "legend": {"orient": "none", "direction": "horizontal", "legendX": -59.3, "legendY": 1006, "labelExpr": "datum.value == 'EXP' ? ['EXPERIMENTO VATTENFALL', ' '] : datum.value == 'SMAG' ? ['SIMULACIÓN LES SMAGORINSKY', ' '] : datum.value == 'WALE' ? ['SIMULACIÓN LES', 'WALE'] : ['SIMULACIÓN LES', 'DYNAMIC']", "encode": {"labels": {"update": {"lineHeight": {"value": 24}}}, "symbols": {"update": {"strokeWidth": {"signal": "datum.value == 'EXP' ? 2 : 3.5"}}}}}}
          }
        }
      ],
      "resolve": {"axis": {"y": "independent"}}
    },
    {
      "width": 443, "height": 328,
      "title": {"text": "VELOCIDAD MEDIA U (m/s) a 2,6D", "dx": -10},
      "transform": [{"filter": "datum.p == 2"}],
      "layer": [
        {
          "transform": [{"filter": "datum.s != 'EXP'"}],
          "mark": {"type": "line", "strokeWidth": 2.25, "interpolate": "monotone"},
          "encoding": {
            "x": {"field": "z", "type": "quantitative", "scale": {"domain": [-0.07, 0.07], "nice": false, "zero": false},
              "axis": {"values": [-0.07,-0.06,-0.05,-0.04,-0.03,-0.02,-0.01,0,0.01,0.02,0.03,0.04,0.05,0.06,0.07], "grid": true, "gridColor": "#d9d9d9", "gridWidth": 1.5, "domainColor": "#bfbfbf", "domainWidth": 2, "tickSize": 7, "tickColor": "#bfbfbf", "tickWidth": 2, "labelExpr": "round(abs(datum.value)*100) % 2 == 1 ? format(datum.value, '.2f') : ''", "labelPadding": 25, "labelBaseline": "middle", "labelFlush": false, "labelOverlap": false, "labelBound": false, "title": "Distancia z [m]", "titleAnchor": "end", "titleAlign": "right", "titleX": 443, "titleY": 69, "titleBaseline": "middle"}},
            "y": {"field": "u", "type": "quantitative", "scale": {"domain": [0, 1.5], "nice": false, "zero": false},
              "axis": {"values": [0, 0.5, 1, 1.5], "format": ".2f", "offset": -221.5, "grid": true, "gridColor": "#d9d9d9", "gridWidth": 1.5, "domain": true, "domainColor": "#bfbfbf", "domainWidth": 2, "tickSize": 7, "tickColor": "#bfbfbf", "tickWidth": 2, "labelPadding": 15, "title": "Velocity U [m/s]", "titleX": -259.5, "titleY": 97, "titleAngle": -90, "titleAlign": "center", "titleBaseline": "middle"}},
            "color": {"field": "s", "type": "nominal", "scale": {"domain": ["EXP", "SMAG", "WALE", "DYN"], "range": ["#808080", "#5B9BD5", "#ED7D31", "#FFC000"]}}
          }
        },
        {
          "transform": [{"filter": "datum.s == 'EXP'"}],
          "mark": {"type": "point", "filled": false, "strokeWidth": 1.8, "size": 1936, "opacity": 1},
          "encoding": {
            "x": {"field": "z", "type": "quantitative"},
            "y": {"field": "u", "type": "quantitative", "axis": {"orient": "left", "values": [0.1,0.2,0.3,0.4,0.6,0.7,0.8,0.9,1.1,1.2,1.3,1.4], "grid": true, "gridColor": "#ebebeb", "gridWidth": 1.5, "domain": false, "ticks": false, "labels": false, "title": null}},
            "color": {"field": "s", "type": "nominal", "scale": {"domain": ["EXP", "SMAG", "WALE", "DYN"], "range": ["#808080", "#5B9BD5", "#ED7D31", "#FFC000"]}},
            "shape": {"field": "s", "type": "nominal", "scale": {"domain": ["EXP", "SMAG", "WALE", "DYN"], "range": ["M-0.27,-0.27L0.27,0.27M-0.27,0.27L0.27,-0.27", "M-1,0L1,0", "M-1,0L1,0", "M-1,0L1,0"]}}
          }
        }
      ],
      "resolve": {"axis": {"y": "independent"}}
    },
    {
      "width": 443, "height": 328,
      "title": {"text": "VELOCIDAD MEDIA U (m/s) a 3,6D", "dx": -8},
      "transform": [{"filter": "datum.p == 3"}],
      "layer": [
        {
          "transform": [{"filter": "datum.s != 'EXP'"}],
          "mark": {"type": "line", "strokeWidth": 2.25, "interpolate": "monotone"},
          "encoding": {
            "x": {"field": "z", "type": "quantitative", "scale": {"domain": [-0.07, 0.07], "nice": false, "zero": false},
              "axis": {"values": [-0.07,-0.06,-0.05,-0.04,-0.03,-0.02,-0.01,0,0.01,0.02,0.03,0.04,0.05,0.06,0.07], "grid": true, "gridColor": "#d9d9d9", "gridWidth": 1.5, "domainColor": "#bfbfbf", "domainWidth": 2, "tickSize": 7, "tickColor": "#bfbfbf", "tickWidth": 2, "labelExpr": "round(abs(datum.value)*100) % 2 == 1 ? format(datum.value, '.2f') : ''", "labelPadding": 25, "labelBaseline": "middle", "labelFlush": false, "labelOverlap": false, "labelBound": false, "title": "Distancia z [m]", "titleAnchor": "end", "titleAlign": "right", "titleX": 443, "titleY": 69, "titleBaseline": "middle"}},
            "y": {"field": "u", "type": "quantitative", "scale": {"domain": [0, 1.5], "nice": false, "zero": false},
              "axis": {"values": [0, 0.5, 1, 1.5], "format": ".2f", "offset": -221.5, "grid": true, "gridColor": "#d9d9d9", "gridWidth": 1.5, "domain": true, "domainColor": "#bfbfbf", "domainWidth": 2, "tickSize": 7, "tickColor": "#bfbfbf", "tickWidth": 2, "labelPadding": 15, "title": "Velocity U [m/s]", "titleX": -259.5, "titleY": 97, "titleAngle": -90, "titleAlign": "center", "titleBaseline": "middle"}},
            "color": {"field": "s", "type": "nominal", "scale": {"domain": ["EXP", "SMAG", "WALE", "DYN"], "range": ["#808080", "#5B9BD5", "#ED7D31", "#FFC000"]}}
          }
        },
        {
          "transform": [{"filter": "datum.s == 'EXP'"}],
          "mark": {"type": "point", "filled": false, "strokeWidth": 1.8, "size": 1936, "opacity": 1},
          "encoding": {
            "x": {"field": "z", "type": "quantitative"},
            "y": {"field": "u", "type": "quantitative", "axis": {"orient": "left", "values": [0.1,0.2,0.3,0.4,0.6,0.7,0.8,0.9,1.1,1.2,1.3,1.4], "grid": true, "gridColor": "#ebebeb", "gridWidth": 1.5, "domain": false, "ticks": false, "labels": false, "title": null}},
            "color": {"field": "s", "type": "nominal", "scale": {"domain": ["EXP", "SMAG", "WALE", "DYN"], "range": ["#808080", "#5B9BD5", "#ED7D31", "#FFC000"]}},
            "shape": {"field": "s", "type": "nominal", "scale": {"domain": ["EXP", "SMAG", "WALE", "DYN"], "range": ["M-0.27,-0.27L0.27,0.27M-0.27,0.27L0.27,-0.27", "M-1,0L1,0", "M-1,0L1,0", "M-1,0L1,0"]}}
          }
        }
      ],
      "resolve": {"axis": {"y": "independent"}}
    },
    {
      "width": 443, "height": 328,
      "title": {"text": "VELOCIDAD MEDIA U (m/s) a 4,6D", "dx": -10},
      "transform": [{"filter": "datum.p == 4"}],
      "layer": [
        {
          "transform": [{"filter": "datum.s != 'EXP'"}],
          "mark": {"type": "line", "strokeWidth": 2.25, "interpolate": "monotone"},
          "encoding": {
            "x": {"field": "z", "type": "quantitative", "scale": {"domain": [-0.07, 0.07], "nice": false, "zero": false},
              "axis": {"values": [-0.07,-0.06,-0.05,-0.04,-0.03,-0.02,-0.01,0,0.01,0.02,0.03,0.04,0.05,0.06,0.07], "grid": true, "gridColor": "#d9d9d9", "gridWidth": 1.5, "domainColor": "#bfbfbf", "domainWidth": 2, "tickSize": 7, "tickColor": "#bfbfbf", "tickWidth": 2, "labelExpr": "round(abs(datum.value)*100) % 2 == 1 ? format(datum.value, '.2f') : ''", "labelPadding": 25, "labelBaseline": "middle", "labelFlush": false, "labelOverlap": false, "labelBound": false, "title": "Distancia z [m]", "titleAnchor": "end", "titleAlign": "right", "titleX": 443, "titleY": 69, "titleBaseline": "middle"}},
            "y": {"field": "u", "type": "quantitative", "scale": {"domain": [0, 1.5], "nice": false, "zero": false},
              "axis": {"values": [0, 0.5, 1, 1.5], "format": ".2f", "offset": -221.5, "grid": true, "gridColor": "#d9d9d9", "gridWidth": 1.5, "domain": true, "domainColor": "#bfbfbf", "domainWidth": 2, "tickSize": 7, "tickColor": "#bfbfbf", "tickWidth": 2, "labelPadding": 15, "title": "Velocity U [m/s]", "titleX": -259.5, "titleY": 97, "titleAngle": -90, "titleAlign": "center", "titleBaseline": "middle"}},
            "color": {"field": "s", "type": "nominal", "scale": {"domain": ["EXP", "SMAG", "WALE", "DYN"], "range": ["#808080", "#5B9BD5", "#ED7D31", "#FFC000"]}}
          }
        },
        {
          "transform": [{"filter": "datum.s == 'EXP'"}],
          "mark": {"type": "point", "filled": false, "strokeWidth": 1.8, "size": 1936, "opacity": 1},
          "encoding": {
            "x": {"field": "z", "type": "quantitative"},
            "y": {"field": "u", "type": "quantitative", "axis": {"orient": "left", "values": [0.1,0.2,0.3,0.4,0.6,0.7,0.8,0.9,1.1,1.2,1.3,1.4], "grid": true, "gridColor": "#ebebeb", "gridWidth": 1.5, "domain": false, "ticks": false, "labels": false, "title": null}},
            "color": {"field": "s", "type": "nominal", "scale": {"domain": ["EXP", "SMAG", "WALE", "DYN"], "range": ["#808080", "#5B9BD5", "#ED7D31", "#FFC000"]}},
            "shape": {"field": "s", "type": "nominal", "scale": {"domain": ["EXP", "SMAG", "WALE", "DYN"], "range": ["M-0.27,-0.27L0.27,0.27M-0.27,0.27L0.27,-0.27", "M-1,0L1,0", "M-1,0L1,0", "M-1,0L1,0"]}}
          }
        }
      ],
      "resolve": {"axis": {"y": "independent"}}
    }
  ]
}
